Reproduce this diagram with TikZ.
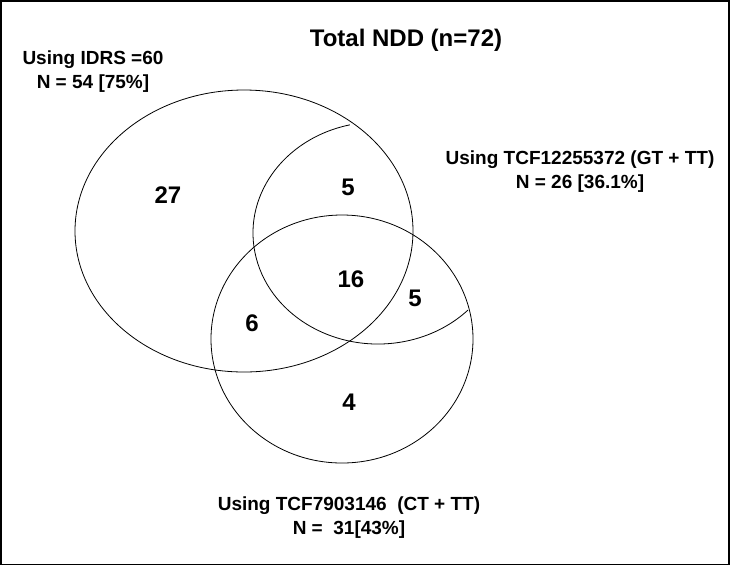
\documentclass[tikz,border=0pt]{standalone}
\usepackage{fontspec}
\setmainfont{Liberation Sans}
\tikzset{setlabel/.style={font=\fontsize{19}{24}\selectfont\bfseries, align=center, inner sep=0pt},
         regioncount/.style={font=\fontsize{24}{28}\selectfont\bfseries, inner sep=0pt},
         setline/.style={line width=0.8pt}}

\begin{document}
\begin{tikzpicture}[x=1pt, y=-1pt]
        \useasboundingbox (0,0) rectangle (731,566);
        \draw [line width=1.5pt] (0.75,0.75) rectangle (729,564.5);

        \coordinate (idrs) at (244,231);
        \coordinate (tcfa) at (378,233);
        \coordinate (tcfb) at (342,339);

        \draw [setline] (idrs) ellipse [x radius=169, y radius=141];
        \draw [setline] (tcfb) ellipse [x radius=131, y radius=124];
        \draw [setline] ([shift={(257:125 and 111)}]tcfa) arc [start angle=257, end angle=44, x radius=125, y radius=111];

        \node [regioncount] (title) at (406,40) {Total NDD (n=72)};
        \node [setlabel] (idrslabel) at (93,72) {Using IDRS =60\\N = 54 [75\%]};
        \node [setlabel] (tcfalabel) at (580,172) {Using TCF12255372 (GT + TT)\\N = 26 [36.1\%]};
        \node [setlabel] (tcfblabel) at (349,518) {Using TCF7903146\ \ (CT + TT)\\N =\ \ 31[43\%]};

        \node [regioncount] (onlyidrs) at (168,195) {27};
        \node [regioncount] (idrstcfa) at (348,187) {5};
        \node [regioncount] (allthree) at (351,279) {16};
        \node [regioncount] (tcfatcfb) at (415,298) {5};
        \node [regioncount] (idrstcfb) at (252,323) {6};
        \node [regioncount] (onlytcfb) at (349,402) {4};
    \end{tikzpicture}
\end{document}
